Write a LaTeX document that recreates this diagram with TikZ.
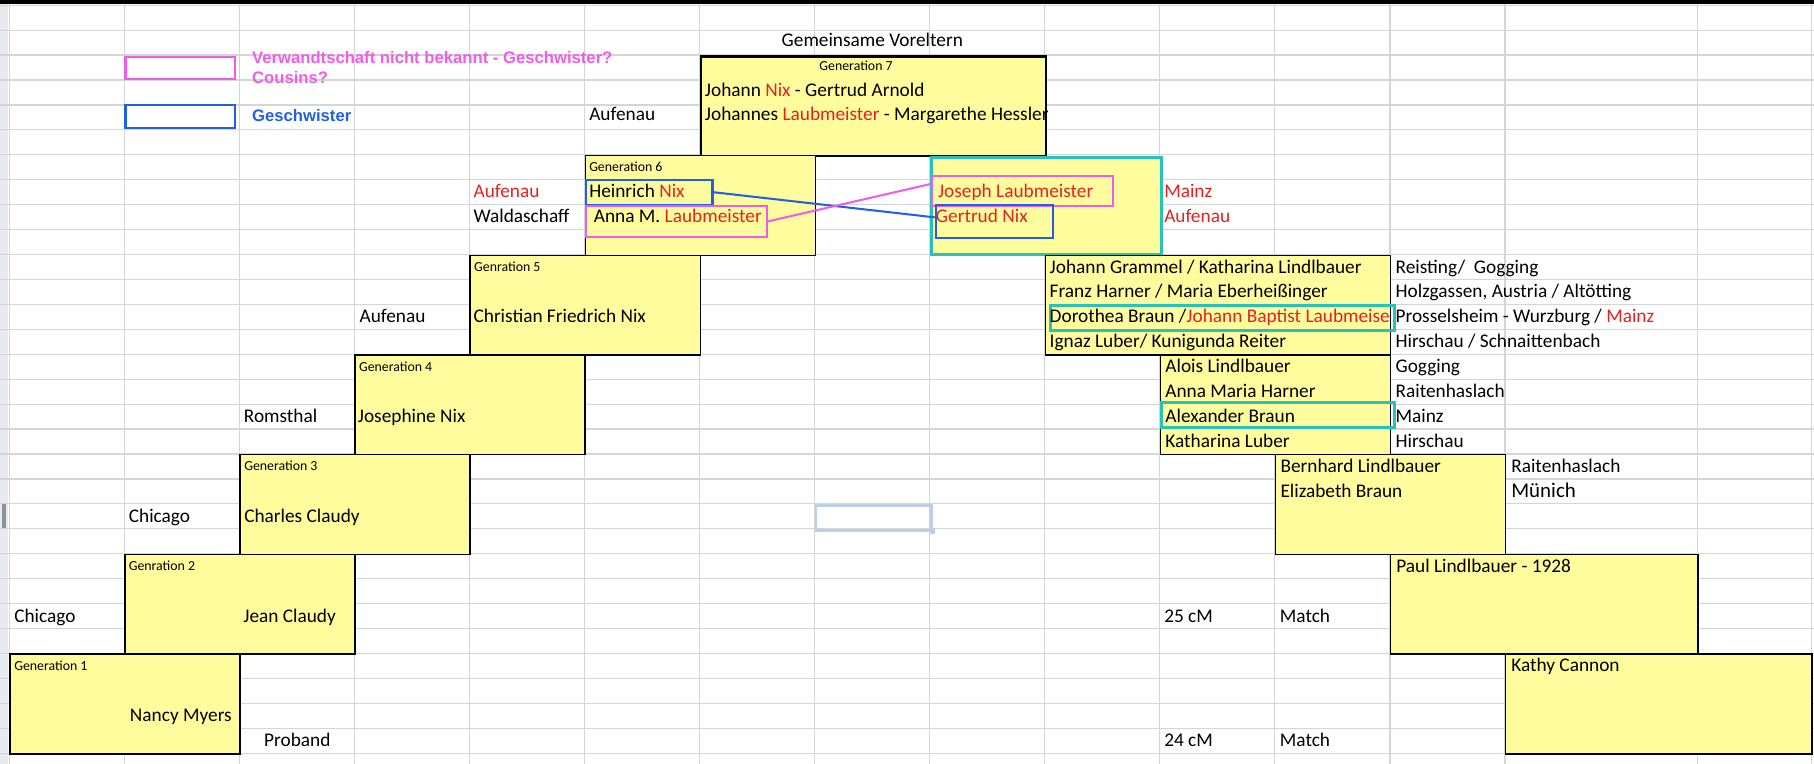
\documentclass[tikz,border=0pt]{standalone}
\usepackage{fontspec}
\setmainfont{Carlito}
\newfontfamily\keyfont{Liberation Sans}
\usepackage{tikz}
\usetikzlibrary{positioning}
\definecolor{cellyellow}{HTML}{FFFC9E}
\definecolor{gridgrey}{HTML}{D5D5D5}
\definecolor{headgrey}{HTML}{E6E9ED}
\definecolor{headdark}{HTML}{8C939B}
\definecolor{ringteal}{HTML}{28C3B8}
\definecolor{unkpink}{HTML}{EF5CE8}
\definecolor{sibblue}{HTML}{2360E1}
\definecolor{placered}{HTML}{E52222}
\definecolor{selblue}{HTML}{BCCFE6}
\newcommand{\rd}[1]{\textcolor{placered}{#1}}

\begin{document}
\begin{tikzpicture}[x=0.02cm,y=-0.02cm,node distance=0.431cm,on grid,
	gbox/.style={draw,line width=0.75pt,fill=cellyellow,anchor=north west,inner sep=0pt,minimum width=3.978cm,minimum height=1.724cm},
	txt/.style={anchor=base west,inner sep=0pt,font=\fontsize{9.5}{11}\selectfont},
	gen/.style={anchor=base west,inner sep=0pt,font=\fontsize{6.8}{8}\selectfont},
	keytxt/.style={anchor=base west,inner sep=0pt,font=\keyfont\bfseries\fontsize{8.2}{10}\selectfont},
	ring/.style={draw,line width=1pt,anchor=north west,inner sep=0pt},
	under/.style={below=of #1,anchor=base west}]
				\useasboundingbox (0,0) rectangle (1568,660);
				\fill[black] (0,0) rectangle (1568,3.5);
				\fill[headgrey] (0,3.5) rectangle (7,660);
				\fill[headdark] (1.5,435.5) rectangle (5.5,457);
				\foreach \r in {0,...,30}
					\draw[gridgrey,line width=0.6pt] (0,{4.5+21.55*\r}) -- (1568,{4.5+21.55*\r});
				\foreach \c in {8,107.45,206.9,306.35,405.8,505.25,604.7,704.15,803.6,903.05,1002.5,1101.95,1201.4,1300.85,1467,1566}
					\draw[gridgrey,line width=0.6pt] (\c,3.5) -- (\c,660);
				\node[ring,draw=unkpink,minimum width=1.888cm,minimum height=0.394cm] (key_u) at (107.6,48) {};
				\node[ring,draw=sibblue,minimum width=1.888cm,minimum height=0.39cm] (key_s) at (107.6,90) {};
				\node[keytxt,text=unkpink] (key_ut) at (217.6,54.7) {Verwandtschaft nicht bekannt - Geschwister?};
				\node[keytxt,text=unkpink] (key_uc) at (217.6,72) {Cousins?};
				\node[keytxt,text=sibblue] (key_st) at (217.6,105) {Geschwister};
				\node[txt,anchor=base] (title) at (754,40.5) {Gemeinsame Voreltern};
				\node[gbox,line width=1.3pt,minimum width=5.967cm] (g_7) at (604.7,47.6) {};
				\node[gen] (g_7l) at (708,61) {Generation 7};
				\node[txt] (n_71) at (609,83) {Johann \rd{Nix} - Gertrud Arnold};
				\node[txt] (n_72) [under=n_71.base west] {Johannes \rd{Laubmeister} - Margarethe Hessler};
				\node[txt] (o_7) at (509,104.5) {Aufenau};
				\node[gbox] (g_6) at (505.25,133.8) {};
				\node[gbox,draw=ringteal,line width=1.6pt,minimum height=1.68cm] (g_6r) at (803.6,134.8) {};
				\node[gen] (g_6l) at (509,148.3) {Generation 6};
				\node[ring,draw=sibblue,minimum width=2.18cm,minimum height=0.431cm] (heinrich) at (506,154.5) {};
				\node[ring,draw=unkpink,minimum width=3.12cm,minimum height=0.54cm] (anna) at (506,177) {};
				\node[ring,draw=unkpink,minimum width=3.12cm,minimum height=0.52cm] (joseph) at (805,151) {};
				\node[ring,draw=sibblue,minimum width=2.02cm,minimum height=0.58cm] (gertrud) at (808,176) {};
				\node[txt] (n_61) at (509,171) {Heinrich \rd{Nix}};
				\node[txt] (n_62) at (513,192.5) {Anna M. \rd{Laubmeister}};
				\node[txt,text=placered] (o_61) at (409,171) {Aufenau};
				\node[txt] (o_62) [under=o_61.base west] {Waldaschaff};
				\node[txt,text=placered] (n_63) at (810.5,171) {Joseph Laubmeister};
				\node[txt,text=placered] (n_64) at (808.7,192.5) {Gertrud Nix};
				\node[txt,text=placered] (o_63) at (1006,171) {Mainz};
				\node[txt,text=placered] (o_64) [under=o_63.base west] {Aufenau};
				\path[sibblue,line width=1pt] (heinrich.east) edge ([yshift=0.7mm]gertrud.west);
				\path[unkpink,line width=1pt] (anna.east) edge ([yshift=1.2mm]joseph.west);
				\node[gbox] (g_5) at (405.8,220) {};
				\node[gen] (g_5l) at (409.5,234.5) {Genration 5};
				\node[txt] (n_5) at (409,279.1) {Christian Friedrich Nix};
				\node[txt] (o_5) at (310.5,279.1) {Aufenau};
				\node[gbox,minimum width=5.967cm] (g_5r) at (903.05,220) {};
				\node[ring,draw=ringteal,line width=1.5pt,minimum width=5.94cm,minimum height=0.43cm] (dorothea) at (907,263) {};
				\node[txt] (m_1) at (907,236) {Johann Grammel / Katharina Lindlbauer};
				\node[txt] (m_2) [under=m_1.base west] {Franz Harner / Maria Eberheißinger};
				\node[txt] (m_3) [under=m_2.base west] {Dorothea Braun /\rd{Johann Baptist Laubmeise}};
				\node[txt] (m_4) [under=m_3.base west] {Ignaz Luber/ Kunigunda Reiter};
				\node[txt] (q_1) at (1206,236) {Reisting/\ \ Gogging};
				\node[txt] (q_2) [under=q_1.base west] {Holzgassen, Austria / Altötting};
				\node[txt] (q_3) [under=q_2.base west] {Prosselsheim - Wurzburg / \rd{Mainz}};
				\node[txt] (q_4) [under=q_3.base west] {Hirschau / Schnaittenbach};
				\node[gbox] (g_4) at (306.35,306.2) {};
				\node[gen] (g_4l) at (310,320.7) {Generation 4};
				\node[txt] (n_4) at (309,365.3) {Josephine Nix};
				\node[txt] (o_4) at (210.5,365.3) {Romsthal};
				\node[gbox] (g_4r) at (1002.5,306.2) {};
				\node[ring,draw=ringteal,line width=1.5pt,minimum width=4.03cm,minimum height=0.43cm] (alexander) at (1002.6,347) {};
				\node[txt] (k_1) at (1007,322.2) {Alois Lindlbauer};
				\node[txt] (k_2) [under=k_1.base west] {Anna Maria Harner};
				\node[txt] (k_3) [under=k_2.base west] {Alexander Braun};
				\node[txt] (k_4) [under=k_3.base west] {Katharina Luber};
				\node[txt] (t_1) at (1206,322.2) {Gogging};
				\node[txt] (t_2) [under=t_1.base west] {Raitenhaslach};
				\node[txt] (t_3) [under=t_2.base west] {Mainz};
				\node[txt] (t_4) [under=t_3.base west] {Hirschau};
				\node[gbox] (g_3) at (206.9,392.4) {};
				\node[gen] (g_3l) at (210.8,406.9) {Generation 3};
				\node[txt] (n_3) at (210.8,451.5) {Charles Claudy};
				\node[txt] (o_3) at (111,451.5) {Chicago};
				\node[gbox] (g_3r) at (1101.95,392.4) {};
				\node[txt] (h_1) at (1106.5,408.4) {Bernhard Lindlbauer};
				\node[txt] (h_2) [under=h_1.base west] {Elizabeth Braun};
				\node[txt] (u_1) at (1306,408.4) {Raitenhaslach};
				\node[txt,font=\fontsize{10.3}{12}\selectfont] (u_2) [under=u_1.base west] {Münich};
				\node[draw=selblue,line width=1.4pt,anchor=north west,inner sep=0pt,minimum width=1.989cm,minimum height=0.431cm] (sel) at (704.15,435.5) {};
				\node[fill=selblue,inner sep=0pt,minimum size=0.1cm] (sel_h) at (sel.south east) {};
				\node[gbox] (g_2) at (107.45,478.6) {};
				\node[gen] (g_2l) at (111,493) {Genration 2};
				\node[txt] (n_2) at (210,537.7) {Jean Claudy};
				\node[txt] (o_2) at (12,537.7) {Chicago};
				\node[gbox,minimum width=5.31cm] (g_2r) at (1201.4,478.6) {};
				\node[txt] (n_2r) at (1206.6,494.6) {Paul Lindlbauer - 1928};
				\node[txt] (cm_2) at (1006,537.7) {25 cM};
				\node[txt] (mt_2) at (1106,537.7) {Match};
				\node[gbox] (g_1) at (8,564.8) {};
				\node[gen] (g_1l) at (12,579.3) {Generation 1};
				\node[txt] (n_1) at (112,623.9) {Nancy Myers};
				\node[txt] (o_1) at (228,645.5) {Proband};
				\node[gbox,minimum width=5.30cm] (g_1r) at (1300.85,564.8) {};
				\node[txt] (n_1r) at (1306,580.8) {Kathy Cannon};
				\node[txt] (cm_1) at (1006,645.5) {24 cM};
				\node[txt] (mt_1) at (1106,645.5) {Match};
			\end{tikzpicture}
\end{document}
